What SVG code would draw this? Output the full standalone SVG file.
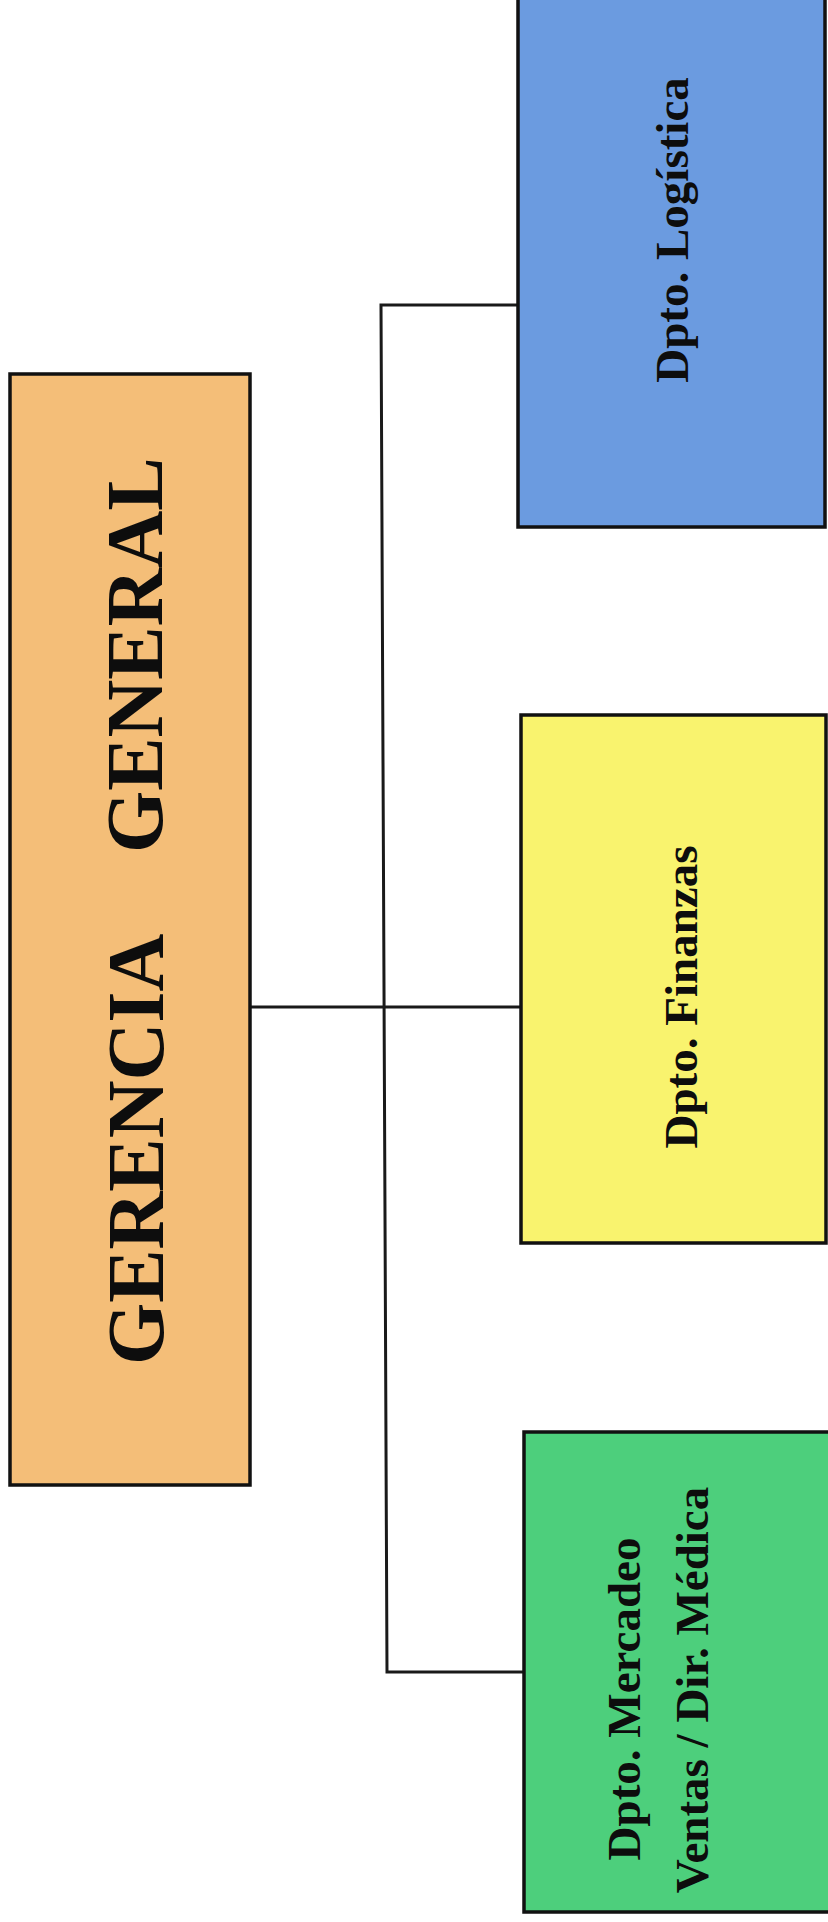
<svg xmlns="http://www.w3.org/2000/svg" width="828" height="1922" viewBox="0 0 828 1922">
  <style>
    .box { stroke: #111; stroke-width: 3.5; }
    .wire { fill: none; stroke: #1a1a1a; stroke-width: 3; }
    .lbl { font-family: "Liberation Serif", "Times New Roman", serif; font-weight: bold; fill: #0d0d0d; }
    .big { font-size: 80px; }
    .dept { font-size: 47px; text-anchor: middle; }
  </style>

  <rect width="828" height="1922" fill="#ffffff"/>

  <!-- connectors -->
  <g id="connectors">
    <line class="wire" x1="250" y1="1007" x2="522" y2="1007"/>
    <polyline class="wire" points="518,305 381,305 387,1672 524,1672"/>
  </g>

  <!-- head office -->
  <g id="gerencia">
    <rect class="box" x="10" y="374" width="240" height="1111" fill="#F4BE78"/>
    <text class="lbl big" transform="translate(163,1365) rotate(-90)">GERENCIA</text>
    <text class="lbl big" transform="translate(162,853) rotate(-90)">GENERAL</text>
  </g>

  <!-- departments -->
  <g id="logistica">
    <rect class="box" x="518" y="-10" width="307" height="537" fill="#6B9BE0"/>
    <text class="lbl dept" transform="translate(688,230) rotate(-90)">Dpto. Logística</text>
  </g>

  <g id="finanzas">
    <rect class="box" x="521" y="715" width="305" height="528" fill="#F9F36E"/>
    <text class="lbl dept" transform="translate(697,997) rotate(-90)">Dpto. Finanzas</text>
  </g>

  <g id="mercadeo">
    <rect class="box" x="524" y="1432" width="306" height="480" fill="#4DCF7C"/>
    <text class="lbl dept" transform="translate(640,1699) rotate(-90)">Dpto. Mercadeo</text>
    <text class="lbl dept" transform="translate(708,1690) rotate(-90)">Ventas / Dir. Médica</text>
  </g>
</svg>
